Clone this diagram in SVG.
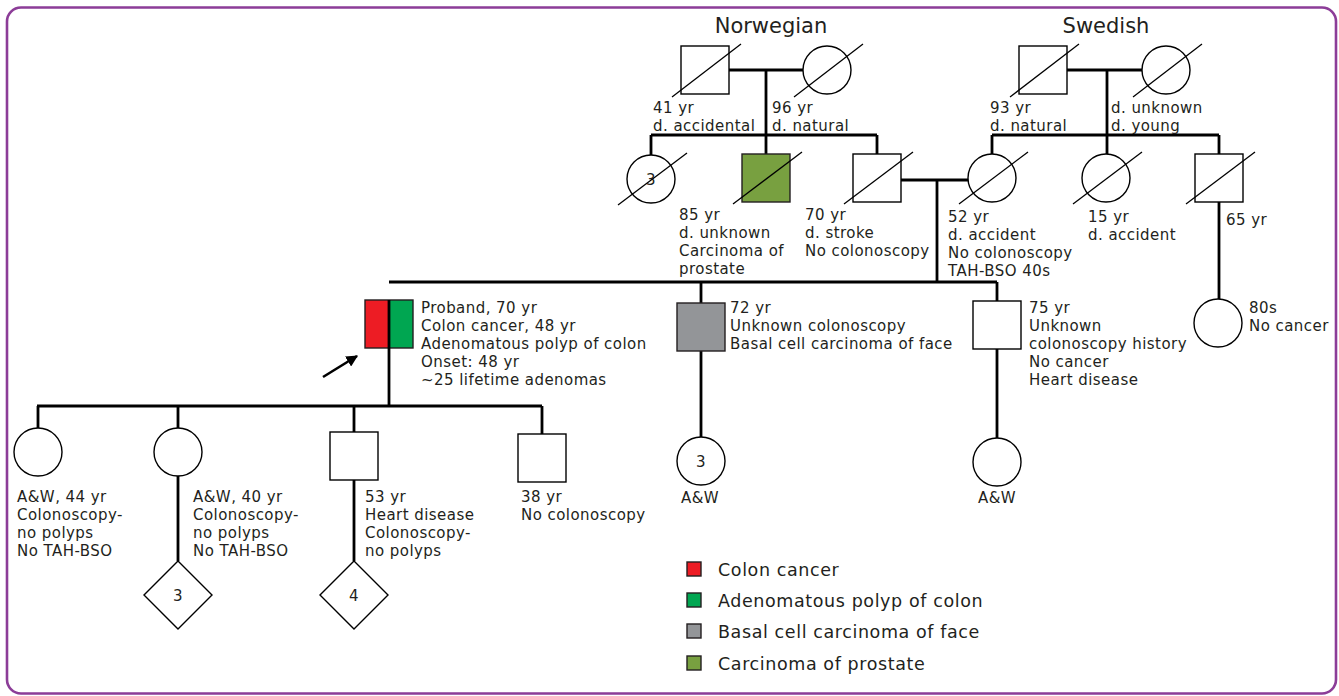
<svg xmlns="http://www.w3.org/2000/svg" width="1339" height="696" viewBox="0 0 1339 696">
<defs>
<style>
.ln{stroke:#000;stroke-width:2.8;fill:none}
.sh{fill:#fff;stroke:#000;stroke-width:1.4}
.dx{stroke:#000;stroke-width:1.3}
.t{font-family:"DejaVu Sans","Liberation Sans",sans-serif;font-size:15px;fill:#231f20;letter-spacing:0.45px}
.h{font-size:21px;letter-spacing:0}
.lg{font-size:17.5px;letter-spacing:0.6px}
.m{text-anchor:middle}
.sw{stroke:#231f20;stroke-width:1.4}
</style>
<marker id="ah" viewBox="0 0 10 10" refX="9" refY="5" markerWidth="4.5" markerHeight="4.5" orient="auto" markerUnits="strokeWidth">
<path d="M0,0 L10,5 L0,10 z" fill="#000"/>
</marker>
</defs>
<rect x="7" y="7.5" width="1329" height="686" rx="14" ry="14" fill="#fff" stroke="#8c3d98" stroke-width="2.6"/>

<text class="t h m" x="771" y="33">Norwegian</text>
<text class="t h m" x="1106" y="33">Swedish</text>

<g id="connectors">
<path class="ln" d="M729,70 H803 M766,70 V135 M651,135 H877 M651,135 V155 M766,135 V154 M877,135 V154"/>
<path class="ln" d="M901,180 H968 M937,180 V282"/>
<path class="ln" d="M1067,70 H1142 M1107,70 V135 M992,135 H1219 M992,135 V154 M1107,135 V154 M1219,135 V154 M1219,202 V299"/>
<path class="ln" d="M389,282 H997 M701,282 V437 M997,282 V438"/>
<path class="ln" d="M37,406 H542 M38,406 V428 M178,406 V428 M354,406 V432 M542,406 V434 M178,476 V561 M354,479 V561"/>
<line x1="323" y1="377" x2="357" y2="356" stroke="#000" stroke-width="2.6" marker-end="url(#ah)"/>
</g>

<g id="nor-father">
<rect class="sh" x="681" y="46" width="48" height="48"/>
<line class="dx" x1="672" y1="97" x2="741" y2="44"/>
<text class="t" x="653" y="113">41 yr</text>
<text class="t" x="653" y="131">d. accidental</text>
</g>
<g id="nor-mother">
<circle class="sh" cx="827" cy="70" r="24"/>
<line class="dx" x1="794" y1="97" x2="863" y2="44"/>
<text class="t" x="772" y="113">96 yr</text>
<text class="t" x="772" y="131">d. natural</text>
</g>
<g id="nor-sisters">
<circle class="sh" cx="651" cy="179" r="24"/>
<text class="t m" x="651" y="185">3</text>
<line class="dx" x1="618" y1="205" x2="687" y2="153"/>
</g>
<g id="uncle-prostate">
<rect x="742" y="154" width="48" height="48" fill="#78a040" stroke="#231f20" stroke-width="1.4"/>
<line class="dx" x1="733" y1="204" x2="802" y2="152"/>
<text class="t" x="679" y="220">85 yr</text>
<text class="t" x="679" y="238">d. unknown</text>
<text class="t" x="679" y="256">Carcinoma of</text>
<text class="t" x="679" y="274">prostate</text>
</g>
<g id="father">
<rect class="sh" x="853" y="154" width="48" height="48"/>
<line class="dx" x1="844" y1="204" x2="913" y2="152"/>
<text class="t" x="805" y="220">70 yr</text>
<text class="t" x="805" y="238">d. stroke</text>
<text class="t" x="805" y="256">No colonoscopy</text>
</g>
<g id="swe-father">
<rect class="sh" x="1019" y="46" width="48" height="48"/>
<line class="dx" x1="1010" y1="97" x2="1079" y2="44"/>
<text class="t" x="990" y="113">93 yr</text>
<text class="t" x="990" y="131">d. natural</text>
</g>
<g id="swe-mother">
<circle class="sh" cx="1166" cy="70" r="24"/>
<line class="dx" x1="1133" y1="97" x2="1202" y2="44"/>
<text class="t" x="1111" y="113">d. unknown</text>
<text class="t" x="1111" y="131">d. young</text>
</g>
<g id="mother">
<circle class="sh" cx="992" cy="178" r="24"/>
<line class="dx" x1="959" y1="204" x2="1028" y2="152"/>
<text class="t" x="948" y="222">52 yr</text>
<text class="t" x="948" y="240">d. accident</text>
<text class="t" x="948" y="258">No colonoscopy</text>
<text class="t" x="948" y="276">TAH-BSO 40s</text>
</g>
<g id="aunt-15">
<circle class="sh" cx="1106" cy="178" r="24"/>
<line class="dx" x1="1073" y1="204" x2="1142" y2="152"/>
<text class="t" x="1088" y="222">15 yr</text>
<text class="t" x="1088" y="240">d. accident</text>
</g>
<g id="uncle-65">
<rect class="sh" x="1195" y="154" width="48" height="48"/>
<line class="dx" x1="1186" y1="204" x2="1255" y2="152"/>
<text class="t" x="1226" y="225">65 yr</text>
</g>
<g id="cousin-80s">
<circle class="sh" cx="1218" cy="323" r="24"/>
<text class="t" x="1249" y="313">80s</text>
<text class="t" x="1249" y="331">No cancer</text>
</g>
<g id="proband">
<rect x="365" y="300" width="24" height="48" fill="#ed1c24"/>
<rect x="389" y="300" width="24" height="48" fill="#00a651"/>
<rect x="365" y="300" width="48" height="48" fill="none" stroke="#231f20" stroke-width="1.4"/>
<line class="ln" x1="389" y1="300" x2="389" y2="406"/>
<text class="t" x="421" y="313">Proband, 70 yr</text>
<text class="t" x="421" y="331">Colon cancer, 48 yr</text>
<text class="t" x="421" y="349">Adenomatous polyp of colon</text>
<text class="t" x="421" y="367">Onset: 48 yr</text>
<text class="t" x="421" y="385">~25 lifetime adenomas</text>
</g>
<g id="brother-72">
<rect x="677" y="303" width="48" height="48" fill="#939598" stroke="#231f20" stroke-width="1.4"/>
<text class="t" x="730" y="313">72 yr</text>
<text class="t" x="730" y="331">Unknown colonoscopy</text>
<text class="t" x="730" y="349">Basal cell carcinoma of face</text>
</g>
<g id="brother-75">
<rect class="sh" x="973" y="301" width="48" height="48"/>
<text class="t" x="1029" y="313">75 yr</text>
<text class="t" x="1029" y="331">Unknown</text>
<text class="t" x="1029" y="349">colonoscopy history</text>
<text class="t" x="1029" y="367">No cancer</text>
<text class="t" x="1029" y="385">Heart disease</text>
</g>
<g id="niece-3">
<circle class="sh" cx="701" cy="461" r="24"/>
<text class="t m" x="701" y="467">3</text>
<text class="t m" x="700" y="503">A&amp;W</text>
</g>
<g id="niece-right">
<circle class="sh" cx="997" cy="462" r="24"/>
<text class="t m" x="997" y="503">A&amp;W</text>
</g>
<g id="daughter-44">
<circle class="sh" cx="38" cy="452" r="24"/>
<text class="t" x="17" y="502">A&amp;W, 44 yr</text>
<text class="t" x="17" y="520">Colonoscopy-</text>
<text class="t" x="17" y="538">no polyps</text>
<text class="t" x="17" y="556">No TAH-BSO</text>
</g>
<g id="daughter-40">
<circle class="sh" cx="178" cy="452" r="24"/>
<text class="t" x="193" y="502">A&amp;W, 40 yr</text>
<text class="t" x="193" y="520">Colonoscopy-</text>
<text class="t" x="193" y="538">no polyps</text>
<text class="t" x="193" y="556">No TAH-BSO</text>
</g>
<g id="grandchildren-3">
<polygon class="sh" points="178,561 212,595 178,629 144,595"/>
<text class="t m" x="178" y="601">3</text>
</g>
<g id="son-53">
<rect class="sh" x="330" y="432" width="48" height="48"/>
<text class="t" x="365" y="502">53 yr</text>
<text class="t" x="365" y="520">Heart disease</text>
<text class="t" x="365" y="538">Colonoscopy-</text>
<text class="t" x="365" y="556">no polyps</text>
</g>
<g id="grandchildren-4">
<polygon class="sh" points="354,561 388,595 354,629 320,595"/>
<text class="t m" x="354" y="601">4</text>
</g>
<g id="son-38">
<rect class="sh" x="518" y="434" width="48" height="48"/>
<text class="t" x="521" y="502">38 yr</text>
<text class="t" x="521" y="520">No colonoscopy</text>
</g>

<g id="legend">
<rect class="sw" x="687" y="562" width="14" height="14" fill="#ed1c24"/>
<text class="t lg" x="718" y="576">Colon cancer</text>
<rect class="sw" x="687" y="593" width="14" height="14" fill="#00a651"/>
<text class="t lg" x="718" y="607">Adenomatous polyp of colon</text>
<rect class="sw" x="687" y="624" width="14" height="14" fill="#939598"/>
<text class="t lg" x="718" y="638">Basal cell carcinoma of face</text>
<rect class="sw" x="687" y="656" width="14" height="14" fill="#78a040"/>
<text class="t lg" x="718" y="670">Carcinoma of prostate</text>
</g>
</svg>
